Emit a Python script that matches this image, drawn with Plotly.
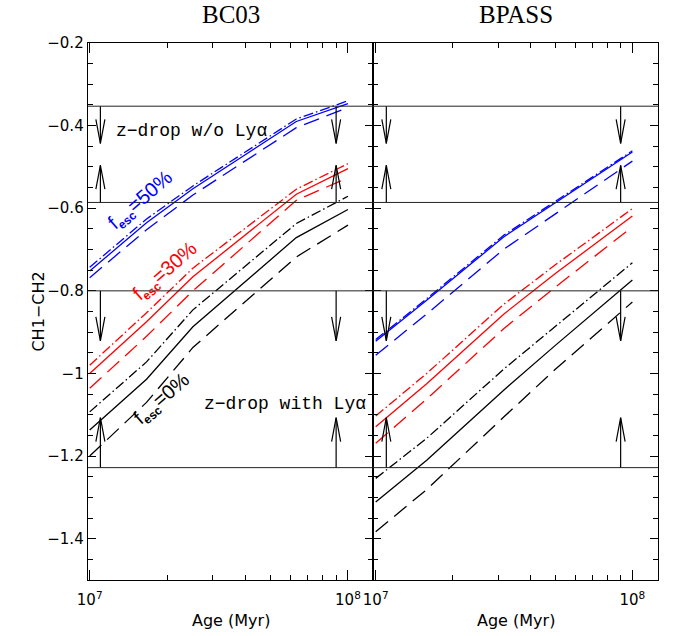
import plotly.graph_objects as go

# ---------------- data ----------------
bc03_age = [1.0e7, 1.66e7, 2.51e7, 6.31e7, 1.0e8]
bc03_f50_solid = [-0.752, -0.635, -0.553, -0.390, -0.347]
bc03_f50_dashed = [-0.768, -0.652, -0.568, -0.405, -0.356]
bc03_f50_dashdot = [-0.743, -0.626, -0.546, -0.384, -0.340]
bc03_f30_solid = [-1.000, -0.875, -0.766, -0.566, -0.504]
bc03_f30_dashed = [-1.036, -0.910, -0.800, -0.581, -0.526]
bc03_f30_dashdot = [-0.980, -0.853, -0.745, -0.554, -0.492]
bc03_f0_solid = [-1.137, -1.014, -0.887, -0.671, -0.603]
bc03_f0_dashed = [-1.200, -1.070, -0.937, -0.718, -0.641]
bc03_f0_dashdot = [-1.093, -0.972, -0.846, -0.637, -0.571]

bpass_age = [1.0e7, 1.58e7, 3.16e7, 5.01e7, 1.0e8]
bpass_f50_solid = [-0.922, -0.823, -0.669, -0.587, -0.464]
bpass_f50_dashed = [-0.956, -0.856, -0.699, -0.613, -0.486]
bpass_f50_dashdot = [-0.918, -0.819, -0.665, -0.583, -0.461]
bpass_f30_solid = [-1.129, -1.025, -0.856, -0.758, -0.619]
bpass_f30_dashed = [-1.169, -1.062, -0.891, -0.791, -0.645]
bpass_f30_dashdot = [-1.103, -1.000, -0.832, -0.737, -0.601]
bpass_f0_solid = [-1.311, -1.210, -1.040, -0.932, -0.774]
bpass_f0_dashed = [-1.383, -1.281, -1.105, -0.990, -0.827]
bpass_f0_dashdot = [-1.254, -1.157, -0.989, -0.886, -0.732]

# colour-selection boundaries (CH1-CH2)
zdrop_noLya_bounds = [-0.353, -0.586]
zdrop_Lya_bounds = [-0.800, -1.228]
arrow_ages = [1.1e7, 9.0e7]
arrow_len_noLya = 0.09
arrow_len_Lya = 0.121

panel_titles = ["BC03", "BPASS"]
y_tickvals = [-1.4, -1.2, -1.0, -0.8, -0.6, -0.4, -0.2]
y_ticktext = ["\u22121.4", "\u22121.2", "\u22121", "\u22120.8", "\u22120.6", "\u22120.4", "\u22120.2"]
x_tickvals = [1e7, 1e8]
x_ticktext = ["10<sup>7</sup>", "10<sup>8</sup>"]
x_minor_vals = [2e7, 3e7, 4e7, 5e7, 6e7, 7e7, 8e7, 9e7]

BLUE = "#0000ff"
RED = "#ff0000"
BLACK = "#000000"
DASH = "16px,8px"
DASHDOT = "10px,3px,1.5px,3px"

fig = go.Figure()

panels = [
    ("x", "y", bc03_age, [
        (bc03_f50_solid, BLUE, "solid"), (bc03_f50_dashed, BLUE, DASH), (bc03_f50_dashdot, BLUE, DASHDOT),
        (bc03_f30_solid, RED, "solid"), (bc03_f30_dashed, RED, DASH), (bc03_f30_dashdot, RED, DASHDOT),
        (bc03_f0_solid, BLACK, "solid"), (bc03_f0_dashed, BLACK, DASH), (bc03_f0_dashdot, BLACK, DASHDOT),
    ]),
    ("x2", "y2", bpass_age, [
        (bpass_f50_solid, BLUE, "solid"), (bpass_f50_dashed, BLUE, DASH), (bpass_f50_dashdot, BLUE, DASHDOT),
        (bpass_f30_solid, RED, "solid"), (bpass_f30_dashed, RED, DASH), (bpass_f30_dashdot, RED, DASHDOT),
        (bpass_f0_solid, BLACK, "solid"), (bpass_f0_dashed, BLACK, DASH), (bpass_f0_dashdot, BLACK, DASHDOT),
    ]),
]

for xa, ya, ages, series in panels:
    for vals, col, dash in series:
        fig.add_trace(go.Scatter(x=ages, y=vals, mode="lines", xaxis=xa, yaxis=ya,
                                 line=dict(color=col, width=1.3, dash=dash),
                                 showlegend=False, hoverinfo="skip"))

# arrows (open V heads)
head_h = 0.058
head_dx = 10 ** 0.0175
for xa, ya, _, _ in panels:
    ax, ay = [], []
    for age in arrow_ages:
        specs = [
            (zdrop_noLya_bounds[0], -arrow_len_noLya),
            (zdrop_noLya_bounds[1], +arrow_len_noLya),
            (zdrop_Lya_bounds[0], -arrow_len_Lya),
            (zdrop_Lya_bounds[1], +arrow_len_Lya),
        ]
        for base, d in specs:
            tip = base + d
            s = 1 if d < 0 else -1
            ax += [age, age, None, age / head_dx, age, age * head_dx, None]
            ay += [base, tip, None, tip + s * head_h, tip, tip + s * head_h, None]
    fig.add_trace(go.Scatter(x=ax, y=ay, mode="lines", xaxis=xa, yaxis=ya,
                             line=dict(color="black", width=1.2),
                             showlegend=False, hoverinfo="skip"))

# horizontal selection boundaries
for xa, ya in [("x", "y"), ("x2", "y2")]:
    for yv in zdrop_noLya_bounds + zdrop_Lya_bounds:
        fig.add_shape(type="line", xref=f"{xa} domain", yref=ya, x0=0, x1=1, y0=yv, y1=yv,
                      line=dict(color="#222222", width=1))

axis_common = dict(showline=True, linecolor="black", linewidth=1.3, mirror="allticks",
                   ticks="inside", tickcolor="black", showgrid=False, zeroline=False)

fig.update_layout(
    width=683, height=636,
    margin=dict(l=88, r=25, t=43, b=56),
    paper_bgcolor="white", plot_bgcolor="white",
    font=dict(family="DejaVu Sans", size=15, color="black"),
    xaxis=dict(domain=[0, 0.5], type="log", range=[6.9934, 8.097], anchor="y",
               tickvals=x_tickvals, ticktext=x_ticktext, ticklen=10, tickwidth=1,
               ticklabelstandoff=6,
               minor=dict(tickvals=x_minor_vals, ticks="inside", ticklen=5, tickcolor="black"),
               **axis_common),
    xaxis2=dict(domain=[0.5, 1], type="log", range=[6.9895, 8.0998], anchor="y2",
                tickvals=x_tickvals, ticktext=x_ticktext, ticklen=10, tickwidth=1,
                ticklabelstandoff=6,
                minor=dict(tickvals=x_minor_vals, ticks="inside", ticklen=5, tickcolor="black"),
                **axis_common),
    yaxis=dict(domain=[0, 1], range=[-1.5, -0.2], anchor="x",
               tickvals=y_tickvals, ticktext=y_ticktext, ticklen=8, tickwidth=1,
               minor=dict(dtick=0.05, tick0=-1.5, ticks="inside", ticklen=5, tickcolor="black"),
               **axis_common),
    yaxis2=dict(domain=[0, 1], range=[-1.5, -0.2], anchor="x2", showticklabels=False,
                tickvals=y_tickvals, ticklen=8, tickwidth=1,
                minor=dict(dtick=0.05, tick0=-1.5, ticks="inside", ticklen=5, tickcolor="black"),
                **axis_common),
)

ann = []
for xd, t in zip(["x domain", "x2 domain"], panel_titles):
    ann.append(dict(text=t, xref=xd, x=0.5, yref="paper", y=1.054, yanchor="middle",
                    showarrow=False, font=dict(family="Liberation Serif", size=25)))
    ann.append(dict(text="Age (Myr)", xref=xd, x=0.5, yref="paper", y=-0.075, yanchor="middle",
                    showarrow=False, font=dict(family="DejaVu Sans", size=16)))
ann.append(dict(text="CH1\u2212CH2", xref="paper", x=-0.107, yref="paper", y=0.499,
                textangle=-90, showarrow=False, font=dict(family="DejaVu Sans", size=16)))
# annotation x on a log axis is given in log10 units
ann.append(dict(text="z\u2212drop w/o Ly\u03b1", xref="x", x=7.395, yref="y", y=-0.412,
                showarrow=False, font=dict(family="Liberation Mono", size=18)))
ann.append(dict(text="z\u2212drop with Ly\u03b1", xref="x", x=7.755, yref="y", y=-1.073,
                showarrow=False, font=dict(family="Liberation Mono", size=18)))
fesc_lbl = "f<sub><b><span style='font-size:12px'>esc</span></b></sub>="
ann.append(dict(text=fesc_lbl + "50%", xref="x", x=7.199, yref="y", y=-0.581,
                textangle=-41, showarrow=False, font=dict(family="Liberation Sans", size=20, color=BLUE)))
ann.append(dict(text=fesc_lbl + "30%", xref="x", x=7.295, yref="y", y=-0.754,
                textangle=-41, showarrow=False, font=dict(family="Liberation Sans", size=20, color=RED)))
ann.append(dict(text=fesc_lbl + "0%", xref="x", x=7.279, yref="y", y=-1.063,
                textangle=-41, showarrow=False, font=dict(family="Liberation Sans", size=20, color=BLACK)))
fig.update_layout(annotations=ann)

# remove the default 8px page margin so the figure sits at the window origin
fig.write_html("out.html", config={"displayModeBar": False, "staticPlot": True},
               post_script="document.body.style.margin='0px';")
